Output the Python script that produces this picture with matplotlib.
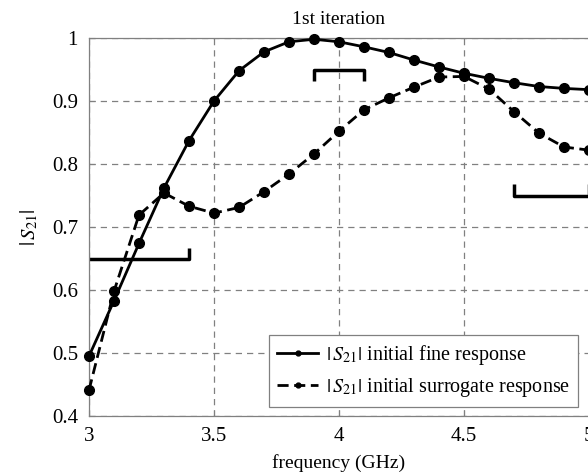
import matplotlib
matplotlib.use("Agg")
import matplotlib.pyplot as plt

plt.rcParams['font.family'] = ['Liberation Serif', 'DejaVu Serif']
plt.rcParams['mathtext.fontset'] = 'stix'
plt.rcParams['font.size'] = 14

# frequency points (GHz)
freq = [3.0, 3.1, 3.2, 3.3, 3.4, 3.5, 3.6, 3.7, 3.8, 3.9, 4.0,
        4.1, 4.2, 4.3, 4.4, 4.5, 4.6, 4.7, 4.8, 4.9, 5.0]

# |S21| initial fine response
fine = [0.495, 0.583, 0.674, 0.762, 0.837, 0.900, 0.948, 0.978, 0.994, 0.998, 0.994,
        0.986, 0.977, 0.965, 0.954, 0.944, 0.936, 0.929, 0.923, 0.920, 0.918]

# |S21| initial surrogate response
surrogate = [0.441, 0.598, 0.719, 0.754, 0.733, 0.722, 0.731, 0.756, 0.784, 0.816, 0.852,
             0.886, 0.905, 0.922, 0.938, 0.939, 0.919, 0.883, 0.849, 0.827, 0.822]

# design spec brackets
spec1_x = [3.0, 3.4, 3.4]
spec1_y = [0.65, 0.65, 0.667]
spec2_x = [3.9, 3.9, 4.1, 4.1]
spec2_y = [0.931, 0.95, 0.95, 0.931]
spec3_x = [4.7, 4.7, 5.0, 5.0]
spec3_y = [0.769, 0.75, 0.75, 0.769]

fig = plt.figure(figsize=(5.88, 4.74), dpi=100)
ax = fig.add_axes([89 / 588, 1 - 416 / 474, 500 / 588, 378 / 474])

ax.plot(freq, fine, '-o', color='black', lw=2, ms=7, clip_on=False, zorder=3,
        label=r'$|\,S_{21}|$ initial fine response')
ax.plot(freq, surrogate, '--o', color='black', lw=2, ms=7, clip_on=False, zorder=3,
        dashes=(4, 2), label=r'$|\,S_{21}|$ initial surrogate response')

for sx, sy in [(spec1_x, spec1_y), (spec2_x, spec2_y), (spec3_x, spec3_y)]:
    ax.plot(sx, sy, color='black', lw=2.5, solid_capstyle='butt', zorder=2)

ax.set_xlim(3, 5)
ax.set_ylim(0.4, 1)
ax.set_xticks([3, 3.5, 4, 4.5, 5])
ax.set_xticklabels(['3', '3.5', '4', '4.5', '5'])
ax.set_yticks([0.4, 0.5, 0.6, 0.7, 0.8, 0.9, 1])
ax.set_yticklabels(['0.4', '0.5', '0.6', '0.7', '0.8', '0.9', '1'])
ax.grid(True, color='gray', ls=(0, (5, 4)), lw=0.9)
ax.tick_params(direction='in', length=4, color='gray', pad=8, labelsize=15)
for sp in ax.spines.values():
    sp.set_color('gray')
    sp.set_linewidth(0.9)

ax.set_xlabel('frequency (GHz)', labelpad=6)
ax.set_ylabel(r'$|\,S_{21}|$', labelpad=8, fontsize=15)
ax.set_title('1st iteration', fontsize=14, pad=10)

leg = ax.legend(loc='lower right', bbox_to_anchor=(0.978, 0.024), fontsize=14.5,
                markerscale=0.5, handlelength=2.0, handletextpad=0.4,
                fancybox=False, framealpha=1, borderpad=0.4, labelspacing=0.45,
                borderaxespad=0)
leg.get_frame().set_edgecolor('gray')
leg.get_frame().set_linewidth(0.9)

fig.savefig('out.png', dpi=100)
